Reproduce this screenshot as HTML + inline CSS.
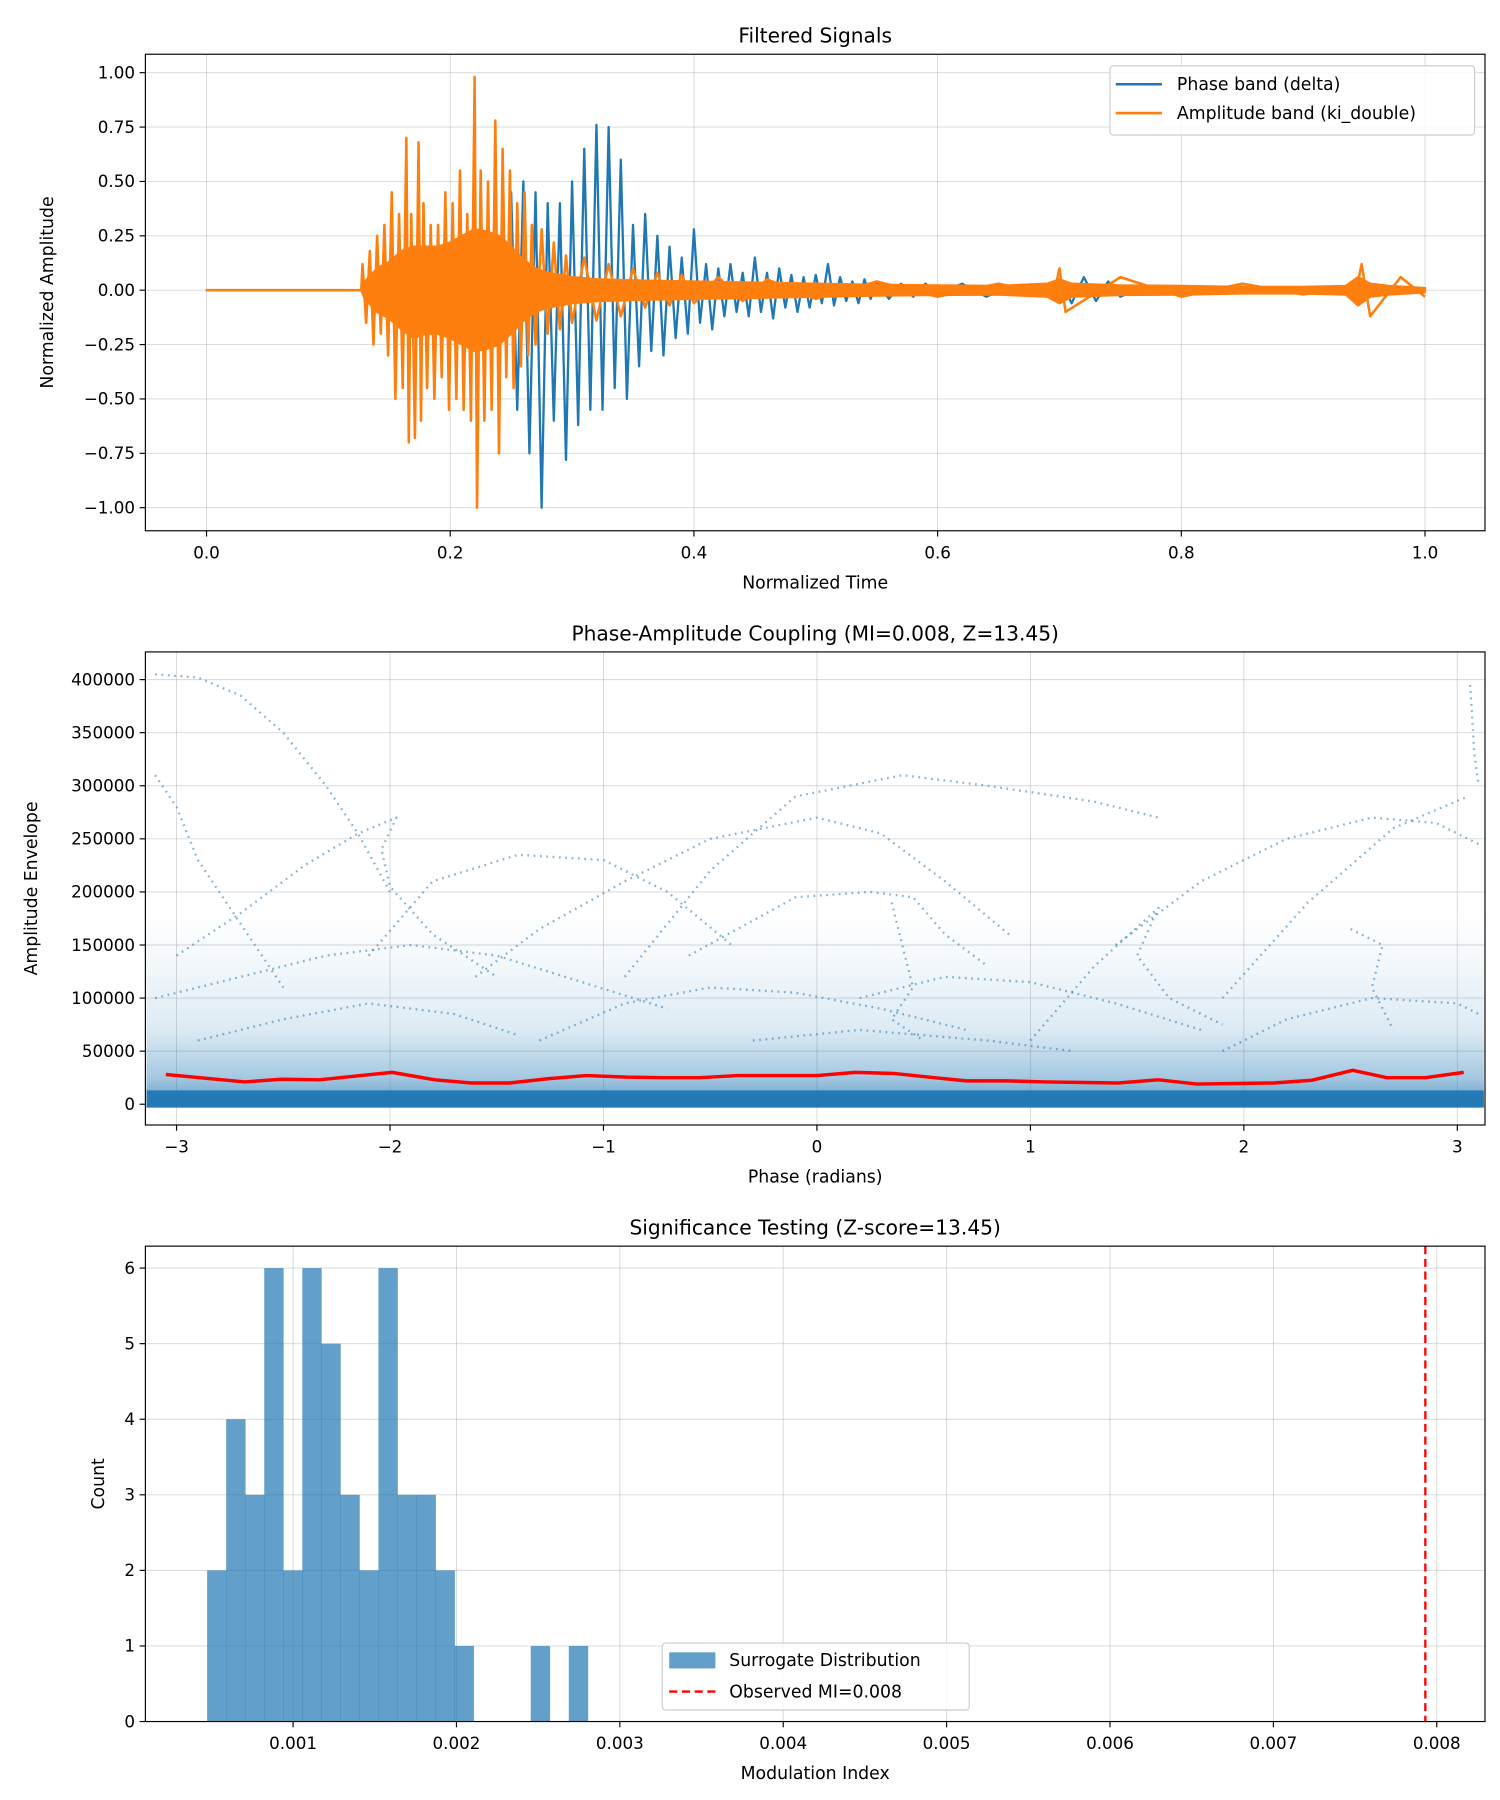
<!DOCTYPE html>
<html><head><meta charset="utf-8">
<style>
html,body{margin:0;padding:0;background:#fff;}
svg{display:block;font-family:"DejaVu Sans","Liberation Sans",sans-serif;}
</style></head>
<body>
<svg id="fig" width="1500" height="1800" viewBox="0 0 1300 1560" xmlns="http://www.w3.org/2000/svg">
<rect x="0" y="0" width="1300" height="1560" fill="#fff"/>
<g id="p1"></g>
<g id="p2"></g>
<g id="p3"></g>
</svg>
<script>
// ---- Panel 1 data ----
const p1Ticks = [0.0, 0.2, 0.4, 0.6, 0.8, 1.0];
const p1YTicks = [-1.0, -0.75, -0.5, -0.25, 0, 0.25, 0.5, 0.75, 1.0];
const orangeEnvT = [0, 0.127, 0.13, 0.14, 0.15, 0.16, 0.17, 0.18, 0.19, 0.2, 0.21, 0.22, 0.23, 0.24, 0.25, 0.26, 0.27, 0.28, 0.3, 0.32, 0.35, 0.4, 0.45, 0.5, 0.55, 0.6, 0.65, 0.69, 0.7, 0.71, 0.75, 0.8, 0.85, 0.9, 0.935, 0.945, 0.955, 0.97, 1.0];
const orangeEnvUp = [0, 0, 0.04, 0.1, 0.13, 0.18, 0.2, 0.2, 0.2, 0.22, 0.25, 0.28, 0.27, 0.25, 0.2, 0.14, 0.1, 0.08, 0.06, 0.05, 0.045, 0.04, 0.035, 0.03, 0.025, 0.022, 0.02, 0.03, 0.05, 0.03, 0.022, 0.02, 0.015, 0.015, 0.02, 0.06, 0.03, 0.02, 0.01];
const orangeEnvLo = [0, 0, -0.04, -0.1, -0.13, -0.18, -0.22, -0.2, -0.2, -0.22, -0.25, -0.28, -0.27, -0.25, -0.2, -0.14, -0.1, -0.08, -0.06, -0.05, -0.045, -0.04, -0.035, -0.03, -0.025, -0.022, -0.02, -0.03, -0.06, -0.03, -0.022, -0.02, -0.015, -0.015, -0.02, -0.07, -0.03, -0.02, -0.01];
const orangeSpikeT = [0.128, 0.131, 0.134, 0.137, 0.14, 0.143, 0.146, 0.149, 0.152, 0.155, 0.158, 0.161, 0.164, 0.166, 0.168, 0.171, 0.174, 0.176, 0.178, 0.181, 0.184, 0.187, 0.19, 0.193, 0.196, 0.199, 0.202, 0.205, 0.208, 0.211, 0.214, 0.217, 0.22, 0.222, 0.225, 0.228, 0.231, 0.234, 0.237, 0.24, 0.243, 0.246, 0.249, 0.252, 0.255, 0.258, 0.261, 0.264, 0.267, 0.27, 0.275, 0.28, 0.285, 0.29, 0.295, 0.3, 0.31, 0.32, 0.33, 0.34, 0.35, 0.36, 0.37, 0.38, 0.39, 0.4, 0.42, 0.44, 0.46, 0.5, 0.55, 0.6, 0.65, 0.695, 0.7, 0.705, 0.75, 0.8, 0.85, 0.9, 0.94, 0.945, 0.948, 0.955, 0.98, 1.0];
const orangeSpikeV = [0.12, -0.15, 0.18, -0.25, 0.25, -0.2, 0.3, -0.3, 0.45, -0.5, 0.35, -0.45, 0.7, -0.7, 0.35, -0.68, 0.68, -0.6, 0.4, -0.45, 0.3, -0.5, 0.3, -0.4, 0.45, -0.55, 0.4, -0.5, 0.55, -0.55, 0.35, -0.6, 0.98, -1.0, 0.55, -0.6, 0.5, -0.55, 0.78, -0.75, 0.65, -0.4, 0.55, -0.45, 0.4, -0.35, 0.45, -0.3, 0.3, -0.25, 0.28, -0.2, 0.22, -0.18, 0.16, -0.15, 0.15, -0.14, 0.12, -0.12, 0.1, -0.08, 0.08, -0.07, 0.07, -0.06, 0.06, -0.05, 0.05, -0.04, 0.04, -0.03, 0.03, -0.03, 0.1, -0.1, 0.06, -0.03, 0.03, -0.02, 0.02, 0.04, 0.12, -0.12, 0.06, -0.03, 0.0];
const blueSpikeT = [0.25, 0.255, 0.26, 0.265, 0.27, 0.275, 0.28, 0.285, 0.29, 0.295, 0.3, 0.305, 0.31, 0.315, 0.32, 0.325, 0.33, 0.335, 0.34, 0.345, 0.35, 0.355, 0.36, 0.365, 0.37, 0.375, 0.38, 0.385, 0.39, 0.395, 0.4, 0.405, 0.41, 0.415, 0.42, 0.425, 0.43, 0.435, 0.44, 0.445, 0.45, 0.455, 0.46, 0.465, 0.47, 0.475, 0.48, 0.485, 0.49, 0.495, 0.5, 0.505, 0.51, 0.515, 0.52, 0.525, 0.53, 0.535, 0.54, 0.545, 0.55, 0.56, 0.57, 0.58, 0.59, 0.6, 0.62, 0.64, 0.66, 0.68, 0.7, 0.71, 0.72, 0.73, 0.74, 0.75, 0.77, 0.8];
const blueSpikeV = [0.45, -0.55, 0.5, -0.75, 0.45, -1.0, 0.4, -0.6, 0.4, -0.78, 0.5, -0.62, 0.65, -0.55, 0.76, -0.55, 0.75, -0.45, 0.6, -0.5, 0.3, -0.35, 0.35, -0.28, 0.25, -0.3, 0.2, -0.22, 0.15, -0.2, 0.28, -0.15, 0.12, -0.18, 0.1, -0.12, 0.12, -0.1, 0.08, -0.12, 0.15, -0.1, 0.08, -0.13, 0.1, -0.08, 0.07, -0.1, 0.06, -0.08, 0.07, -0.06, 0.12, -0.07, 0.06, -0.05, 0.04, -0.06, 0.05, -0.04, 0.04, -0.04, 0.03, -0.03, 0.03, -0.02, 0.03, -0.03, 0.02, -0.02, 0.04, -0.06, 0.06, -0.05, 0.04, -0.03, 0.02, 0.0];

// ---- Panel 2 data ----
const p2XTicks = [-3, -2, -1, 0, 1, 2, 3];
const p2YTicks = [0, 50000, 100000, 150000, 200000, 250000, 300000, 350000, 400000];
const meanPhase = [-3.05, -2.68, -2.51, -2.33, -1.99, -1.79, -1.62, -1.44, -1.26, -1.08, -0.89, -0.73, -0.55, -0.37, -0.19, 0.0, 0.18, 0.36, 0.55, 0.70, 0.89, 1.07, 1.25, 1.41, 1.60, 1.78, 1.96, 2.14, 2.32, 2.51, 2.67, 2.85, 3.03];
const meanAmp = [28000, 21000, 23500, 23000, 30000, 23000, 20000, 20000, 24000, 27000, 25500, 25000, 25000, 27000, 27000, 27000, 30000, 29000, 25000, 22000, 22000, 21000, 20500, 20000, 23000, 19000, 19500, 20000, 22600, 32000, 25000, 25000, 30000];
const trailA = [[-3.1,405000],[-2.9,402000],[-2.7,385000],[-2.5,350000],[-2.3,300000],[-2.15,255000],[-2.0,200000]];
const trailB = [[-3.0,140000],[-2.7,180000],[-2.4,225000],[-2.15,255000],[-1.97,270000],[-2.04,240000],[-2.0,205000],[-1.8,160000],[-1.5,120000]];
const trailC = [[-1.6,120000],[-1.3,165000],[-0.9,210000],[-0.5,250000],[0,270000],[0.3,255000],[0.6,210000],[0.9,160000]];
const trailD = [[-0.9,120000],[-0.5,220000],[-0.1,290000],[0.4,310000],[0.8,300000],[1.3,285000],[1.6,270000]];
const trailE = [[-2.1,140000],[-1.8,210000],[-1.4,235000],[-1.0,230000],[-0.7,200000],[-0.4,150000]];
const trailF = [[-0.6,140000],[-0.1,195000],[0.25,200000],[0.45,195000],[0.6,160000],[0.8,130000]];
const trailG = [[0.35,190000],[0.4,150000],[0.45,110000],[0.35,80000],[0.5,60000]];
const trailH = [[1.0,60000],[1.3,130000],[1.6,185000],[1.5,140000],[1.65,100000],[1.9,75000]];
const trailI = [[1.4,150000],[1.8,210000],[2.2,250000],[2.6,270000],[2.9,265000],[3.1,245000]];
const trailJ = [[1.9,100000],[2.3,190000],[2.7,260000],[3.05,290000]];
const trailK = [[3.06,395000],[3.08,330000],[3.1,300000]];
const trailL = [[2.5,165000],[2.65,150000],[2.6,110000],[2.7,70000]];
const trailM = [[-3.1,310000],[-3.0,280000],[-2.9,230000],[-2.7,170000],[-2.5,110000]];
const trailN = [[-3.1,100000],[-2.7,120000],[-2.3,140000],[-1.9,150000],[-1.5,140000],[-1.1,115000],[-0.7,90000]];
const trailO = [[-1.3,60000],[-0.9,95000],[-0.5,110000],[-0.1,105000],[0.3,90000],[0.7,70000]];
const trailP = [[0.2,100000],[0.6,120000],[1.0,115000],[1.4,95000],[1.8,70000]];
const trailQ = [[-2.9,60000],[-2.5,80000],[-2.1,95000],[-1.7,85000],[-1.4,65000]];
const trailR = [[1.9,50000],[2.2,80000],[2.6,100000],[3.0,95000],[3.1,85000]];
const trailS = [[-0.3,60000],[0.2,70000],[0.8,60000],[1.2,50000]];

// ---- Panel 3 data ----
const histStart = 0.000474;
const histWidth = 0.0001165;
const histCounts = [2, 4, 3, 6, 2, 6, 5, 3, 2, 6, 3, 3, 2, 1, 0, 0, 0, 1, 0, 1];
const observedMI = 0.00793;
const p3XTicks = [0.001, 0.002, 0.003, 0.004, 0.005, 0.006, 0.007, 0.008];
const p3YTicks = [0, 1, 2, 3, 4, 5, 6];

const NS = "http://www.w3.org/2000/svg";
function mk(parent, tag, attrs, text) {
  const e = document.createElementNS(NS, tag);
  for (const k in attrs) e.setAttribute(k, attrs[k]);
  if (text !== undefined) e.textContent = text;
  parent.appendChild(e);
  return e;
}
const L = 126, R = 1287;
function fmtMinus(s){return s.replace('-', '\u2212');}

function frame(g, top, bot, title, xlabel, ylabel, ylabX, nameP) {
  const t = mk(g, 'text', {x: (L+R)/2, y: top-10, 'text-anchor': 'middle', 'font-size': 17.5, fill: '#000'}, title);
  
  
  const xl = mk(g, 'text', {x: (L+R)/2, y: bot+50, 'text-anchor': 'middle', 'font-size': 15, fill: '#000'}, xlabel);
  
  
  const cy = (top+bot)/2;
  const yl = mk(g, 'text', {x: ylabX, y: cy, 'text-anchor': 'middle', 'font-size': 15, fill: '#000', transform: `rotate(-90 ${ylabX} ${cy})`}, ylabel);
  
  
}
function border(g, top, bot) {
  const b = mk(g, 'rect', {x: L, y: top, width: R-L, height: bot-top, fill: 'none', stroke: '#000', 'stroke-width': 1});
  
  
}
function xtick(g, px, bot, label) {
  mk(g, 'line', {x1: px, x2: px, y1: bot, y2: bot+5, stroke: '#000', 'stroke-width': 1});
  const t = mk(g, 'text', {x: px, y: bot+24, 'text-anchor': 'middle', 'font-size': 14.5, fill: '#000'}, label);
  
  
}
function ytick(g, py, label) {
  mk(g, 'line', {x1: L-5, x2: L, y1: py, y2: py, stroke: '#000', 'stroke-width': 1});
  const t = mk(g, 'text', {x: L-9, y: py+5, 'text-anchor': 'end', 'font-size': 14.5, fill: '#000'}, label);
  
  
}
function grid(g, x1, y1, x2, y2) {
  mk(g, 'line', {x1, y1, x2, y2, stroke: '#b0b0b0', 'stroke-width': 0.8, 'stroke-opacity': 0.5});
}

// ===== Panel 1 =====
(function(){
  const g = document.getElementById('p1');
  const top = 47, bot = 460;
  const X = t => 179 + t*1056;
  const Y = v => 251.5 - v*188.5;
  frame(g, top, bot, 'Filtered Signals', 'Normalized Time', 'Normalized Amplitude', 46, 'signals');
  p1Ticks.forEach(t => grid(g, X(t), top, X(t), bot));
  p1YTicks.forEach(v => grid(g, L, Y(v), R, Y(v)));
  let pts = [[0.13,0],[0.25,0]];
  blueSpikeT.forEach((t,i)=>pts.push([t, blueSpikeV[i]]));
  pts.push([1.0,0]);
  const bl = mk(g, 'polyline', {points: pts.map(p=>X(p[0])+','+Y(p[1])).join(' '), fill: 'none', stroke: '#1f77b4', 'stroke-width': 2, 'stroke-linejoin': 'round'});
  
  
  let env = orangeEnvT.map((t,i)=>X(t)+','+Y(orangeEnvUp[i]));
  for (let i = orangeEnvT.length-1; i >= 0; i--) env.push(X(orangeEnvT[i])+','+Y(orangeEnvLo[i]));
  const oe = mk(g, 'polygon', {points: env.join(' '), fill: '#ff7f0e', stroke: '#ff7f0e', 'stroke-width': 2, 'stroke-linejoin': 'round'});
  
  
  let op = [[0,0],[0.127,0]];
  orangeSpikeT.forEach((t,i)=>op.push([t, orangeSpikeV[i]]));
  const ol = mk(g, 'polyline', {points: op.map(p=>X(p[0])+','+Y(p[1])).join(' '), fill: 'none', stroke: '#ff7f0e', 'stroke-width': 2.2, 'stroke-linejoin': 'round'});
  
  
  border(g, top, bot);
  p1Ticks.forEach(t => xtick(g, X(t), bot, t.toFixed(1)));
  p1YTicks.forEach(v => ytick(g, Y(v), fmtMinus(v.toFixed(2))));
  const lg = mk(g, 'g', {});
  
  
  mk(lg, 'rect', {x: 962, y: 57, width: 316, height: 60, rx: 3, fill: '#fff', 'fill-opacity': 0.8, stroke: '#ccc'});
  mk(lg, 'line', {x1: 967, x2: 1007, y1: 73, y2: 73, stroke: '#1f77b4', 'stroke-width': 2.2});
  const e1 = mk(lg, 'text', {x: 1020, y: 78, 'font-size': 15}, 'Phase band (delta)');
  
  
  mk(lg, 'line', {x1: 967, x2: 1007, y1: 98, y2: 98, stroke: '#ff7f0e', 'stroke-width': 2.2});
  const e2 = mk(lg, 'text', {x: 1020, y: 103, 'font-size': 15}, 'Amplitude band (ki_double)');
  
  
})();

// ===== Panel 2 =====
(function(){
  const g = document.getElementById('p2');
  const top = 565, bot = 975;
  const X = p => 708 + p*185;
  const Y = v => 957 - v*0.00092;
  frame(g, top, bot, 'Phase-Amplitude Coupling (MI=0.008, Z=13.45)', 'Phase (radians)', 'Amplitude Envelope', 32, 'pac');
  p2XTicks.forEach(t => grid(g, X(t), top, X(t), bot));
  p2YTicks.forEach(v => grid(g, L, Y(v), R, Y(v)));
  const defs = mk(g, 'defs', {});
  const lgr = mk(defs, 'linearGradient', {id: 'haze', x1: 0, y1: 1, x2: 0, y2: 0});
  mk(lgr, 'stop', {offset: '0', 'stop-color': '#1f77b4', 'stop-opacity': 0.75});
  mk(lgr, 'stop', {offset: '0.15', 'stop-color': '#1f77b4', 'stop-opacity': 0.4});
  mk(lgr, 'stop', {offset: '0.4', 'stop-color': '#1f77b4', 'stop-opacity': 0.15});
  mk(lgr, 'stop', {offset: '0.75', 'stop-color': '#1f77b4', 'stop-opacity': 0.05});
  mk(lgr, 'stop', {offset: '1', 'stop-color': '#1f77b4', 'stop-opacity': 0.0});
  const hz = mk(g, 'rect', {x: L+1, y: Y(180000), width: R-L-2, height: Y(0)-Y(180000)+2, fill: 'url(#haze)'});
  
  
  const bd = mk(g, 'rect', {x: L+1, y: Y(13000), width: R-L-2, height: Y(0)-Y(13000)+3, fill: '#1f77b4', 'fill-opacity': 0.95});
  
  
  [trailA,trailB,trailC,trailD,trailE,trailF,trailG,trailH,trailI,trailJ,trailK,trailL,trailM,trailN,trailO,trailP,trailQ,trailR,trailS].forEach(tr => {
    const pl = mk(g, 'polyline', {points: tr.map(p=>X(p[0])+','+Y(p[1])).join(' '), fill: 'none', stroke: '#1f77b4', 'stroke-opacity': 0.55, 'stroke-width': 2, 'stroke-dasharray': '1.5 4', 'stroke-linejoin': 'round'});
    
    
  });
  const ml = mk(g, 'polyline', {points: meanPhase.map((p,i)=>X(p)+','+Y(meanAmp[i])).join(' '), fill: 'none', stroke: '#ff0000', 'stroke-width': 3, 'stroke-linejoin': 'round'});
  
  
  border(g, top, bot);
  p2XTicks.forEach(t => xtick(g, X(t), bot, fmtMinus(String(t))));
  p2YTicks.forEach(v => ytick(g, Y(v), String(v)));
})();

// ===== Panel 3 =====
(function(){
  const g = document.getElementById('p3');
  const top = 1080, bot = 1492;
  const X = v => 254 + (v-0.001)*141600;
  const Y = c => 1492 - c*65.5;
  frame(g, top, bot, 'Significance Testing (Z-score=13.45)', 'Modulation Index', 'Count', 90, 'significance');
  p3XTicks.forEach(t => grid(g, X(t), top, X(t), bot));
  p3YTicks.forEach(v => grid(g, L, Y(v), R, Y(v)));
  histCounts.forEach((c,i) => {
    if (!c) return;
    const x0 = X(histStart + i*histWidth), x1 = X(histStart + (i+1)*histWidth);
    const r = mk(g, 'rect', {x: x0, y: Y(c), width: x1-x0+0.3, height: Y(0)-Y(c), fill: '#1f77b4', 'fill-opacity': 0.7});
    
    
  });
  const ob = mk(g, 'line', {x1: X(observedMI), x2: X(observedMI), y1: top, y2: bot, stroke: '#ff0000', 'stroke-width': 2, 'stroke-dasharray': '7 4'});
  
  
  border(g, top, bot);
  p3XTicks.forEach(t => xtick(g, X(t), bot, t.toFixed(3)));
  p3YTicks.forEach(v => ytick(g, Y(v), String(v)));
  const lg = mk(g, 'g', {});
  
  
  mk(lg, 'rect', {x: 574, y: 1424, width: 266, height: 58, rx: 3, fill: '#fff', 'fill-opacity': 0.8, stroke: '#ccc'});
  mk(lg, 'rect', {x: 580, y: 1432, width: 40, height: 14, fill: '#1f77b4', 'fill-opacity': 0.7});
  const e1 = mk(lg, 'text', {x: 632, y: 1444, 'font-size': 15}, 'Surrogate Distribution');
  
  
  mk(lg, 'line', {x1: 580, x2: 620, y1: 1466, y2: 1466, stroke: '#ff0000', 'stroke-width': 2, 'stroke-dasharray': '7 4'});
  const e2 = mk(lg, 'text', {x: 632, y: 1471, 'font-size': 15}, 'Observed MI=0.008');
  
  
})();
</script>
</body></html>
